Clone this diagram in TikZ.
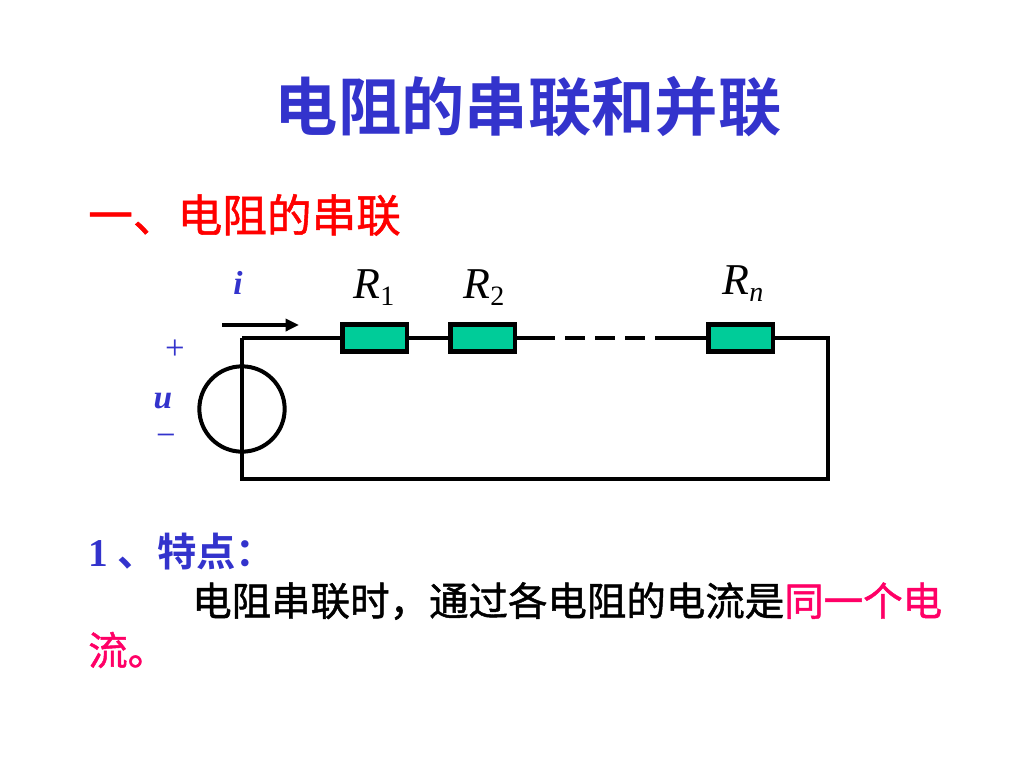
\documentclass[tikz,border=0pt]{standalone}
\usepackage{fontspec}
\setmainfont{Liberation Serif}
\newfontfamily\cjk{Noto Sans CJK SC}
\newfontfamily\cjkb{Noto Sans CJK SC Bold}
\newfontfamily\cjkm[FakeBold=1.2]{Noto Sans CJK SC}
\usetikzlibrary{arrows.meta}
\definecolor{tblue}{RGB}{51,51,204}
\definecolor{tred}{RGB}{255,0,0}
\definecolor{tpink}{RGB}{255,0,102}
\definecolor{resgreen}{RGB}{0,204,153}
\begin{document}
\begin{tikzpicture}[x=0.75pt,y=-0.75pt,
  wire/.style={line width=3pt, line join=miter},
  res/.style={draw, line width=3.5pt, fill=resgreen, minimum width=48.5pt, minimum height=20pt, inner sep=0pt},
  rlabel/.style={font=\fontsize{33}{35}\selectfont\itshape, inner sep=0pt},
  blab/.style={text=tblue, inner sep=0pt}]
\useasboundingbox (0,0) rectangle (1024,768);
% title
\node[text=tblue, font=\cjkb\fontsize{47.5}{50}\selectfont, inner sep=0pt] (title) at (528,107) {电阻的串联和并联};
\node[text=tred, font=\cjkm\fontsize{33.5}{36}\selectfont, inner sep=0pt, anchor=west] (sub) at (88,215) {一、电阻的串联};
% circuit
\coordinate (tl) at (242,338);
\coordinate (tr) at (828,338);
\coordinate (br) at (828,479);
\coordinate (bl) at (242,479);
\coordinate (d1) at (535,338);
\coordinate (d2) at (665,338);
\node[res] (r1) at (374.5,338) {};
\node[res] (r2) at (482.5,338) {};
\node[res] (rn) at (740.5,338) {};
\node[draw, circle, line width=3pt, minimum size=64pt, inner sep=0pt] (src) at (242,409) {};
\draw[wire] (tl) -- (r1.west);
\draw[wire] (r1.east) -- (r2.west);
\draw[wire] (r2.east) -- (d1);
\draw[wire, dash pattern=on 15pt off 7.5pt] (d1) -- (d2);
\draw[wire] (d2) -- (rn.west);
\draw[wire] (rn.east) -- (tr) -- (br) -- (bl) -- (tl);
\coordinate (a1) at (222,325);
\coordinate (a2) at (299,325);
\draw[line width=3pt, -{Triangle[length=10pt,width=9pt]}] (a1) -- (a2);
% labels
\node[blab, font=\fontsize{25}{27}\selectfont\bfseries\itshape] (li) at (238,283) {i};
\node[rlabel] (l1) at (374,288) {R\raisebox{-0.35ex}{\upshape\fontsize{21}{22}\selectfont 1}};
\node[rlabel] (l2) at (484,288) {R\raisebox{-0.35ex}{\upshape\fontsize{21}{22}\selectfont 2}};
\node[rlabel] (l3) at (743,284) {R\raisebox{-0.35ex}{\fontsize{21}{22}\selectfont n}};
\node[blab, font=\fontsize{26}{28}\selectfont] (lp) at (175,350) {+};
\node[blab, font=\fontsize{25}{27}\selectfont\bfseries\itshape] (lu) at (163,401) {u};
\node[blab, font=\fontsize{26}{28}\selectfont] (lm) at (166,440) {−};
% body text
\node[blab, anchor=west, font=\fontsize{29.5}{32}\selectfont] (f1) at (88,552) {\textbf{1} {\cjkb 、特点：}};
\node[anchor=west, inner sep=0pt, font=\cjkm\fontsize{29.6}{32}\selectfont] (f2) at (192,601) {电阻串联时，通过各电阻的电流是\textcolor{tpink}{同一个电}};
\node[anchor=west, inner sep=0pt, text=tpink, font=\cjkm\fontsize{29.6}{32}\selectfont] (f3) at (88,650) {流。};
\end{tikzpicture}
\end{document}
